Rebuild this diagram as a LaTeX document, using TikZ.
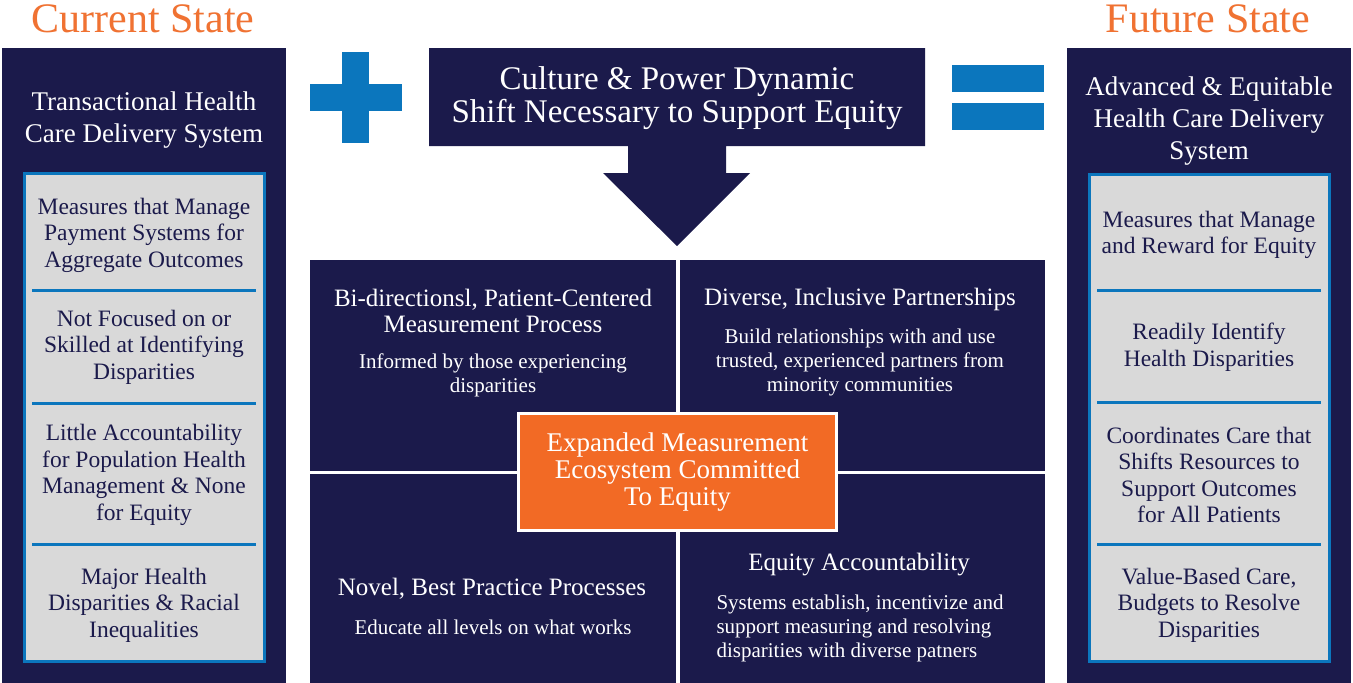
\documentclass[tikz,border=0pt]{standalone}
\usepackage{fontspec}
\setmainfont{Liberation Serif}
\definecolor{navy}{HTML}{1B1A4B}
\definecolor{sigblue}{HTML}{0B76BD}
\definecolor{flame}{HTML}{F26A25}
\definecolor{titleorange}{HTML}{F07232}
\definecolor{panelgray}{HTML}{D9D9D9}
\tikzset{
  statetitle/.style={text=titleorange, inner sep=0pt, font=\fontsize{42}{48}\selectfont},
  panel/.style={fill=navy},
  listbox/.style={fill=panelgray, draw=sigblue, line width=3pt},
  divider/.style={draw=sigblue, line width=3pt},
  heading/.style={text=white, align=center, inner sep=0pt, font=\fontsize{27}{32}\selectfont},
  item/.style={text=navy, align=center, inner sep=0pt, font=\fontsize{23.5}{26.5}\selectfont},
  qhead/.style={text=white, align=center, inner sep=0pt, font=\fontsize{25}{26}\selectfont},
  qsub/.style={text=white, align=center, inner sep=0pt, font=\fontsize{21}{24}\selectfont},
  symbol/.style={fill=sigblue},
}
\begin{document}
\begin{tikzpicture}[x=1pt,y=-1pt]
\useasboundingbox[fill=white] (0,0) rectangle (1353,683);

% ---- titles
\node[statetitle] (curtitle) at (143,19) {Current State};
\node[statetitle] (futtitle) at (1208,19) {Future State};

% ---- left column: current state
\fill[panel] (2,48) rectangle (286,683);
\node[heading] (curhead) at (144,120) {Transactional Health\\Care Delivery System};
\draw[listbox] (24,173) rectangle (264,661);
\draw[divider] (32,290) -- (256,290);
\draw[divider] (32,403) -- (256,403);
\draw[divider] (32,544) -- (256,544);
\node[item] (cur1) at (144,235) {Measures that Manage\\Payment Systems for\\Aggregate Outcomes};
\node[item] (cur2) at (144,347) {Not Focused on or\\Skilled at Identifying\\Disparities};
\node[item] (cur3) at (144,475) {Little Accountability\\for Population Health\\Management \& None\\for Equity};
\node[item] (cur4) at (144,605) {Major Health\\Disparities \& Racial\\Inequalities};

% ---- right column: future state
\fill[panel] (1067,48) rectangle (1351,683);
\node[heading] (futhead) at (1209,121) {Advanced \& Equitable\\Health Care Delivery\\System};
\draw[listbox] (1089,174) rectangle (1329,661);
\draw[divider] (1097,290) -- (1321,290);
\draw[divider] (1097,402) -- (1321,402);
\draw[divider] (1097,544) -- (1321,544);
\node[item] (fut1) at (1209,235) {Measures that Manage\\and Reward for Equity};
\node[item] (fut2) at (1209,347) {Readily Identify\\Health Disparities};
\node[item] (fut3) at (1209,475) {Coordinates Care that\\Shifts Resources to\\Support Outcomes\\for All Patients};
\node[item] (fut4) at (1209,605) {Value-Based Care,\\Budgets to Resolve\\Disparities};

% ---- plus and equals signs
\fill[symbol] (342,52) rectangle (369,143);
\fill[symbol] (310,84) rectangle (402,111);
\fill[symbol] (952,65) rectangle (1044,92);
\fill[symbol] (952,103) rectangle (1044,130);

% ---- downward arrow with the shift banner
\fill[panel] (429,48) -- (925,48) -- (925,146) -- (726,146) -- (726,173)
  -- (750,173) -- (677,246) -- (603,173) -- (628,173) -- (628,146)
  -- (429,146) -- cycle;
\node[heading, font=\fontsize{33}{33}\selectfont] (shift) at (677,98)
  {Culture \& Power Dynamic\\Shift Necessary to Support Equity};

% ---- four quadrants
\fill[panel] (310,260) rectangle (676,471);
\fill[panel] (680,260) rectangle (1045,471);
\fill[panel] (310,474) rectangle (676,683);
\fill[panel] (680,474) rectangle (1045,683);

\node[qhead] (q1h) at (493,311) {Bi-directionsl, Patient-Centered\\Measurement Process};
\node[qsub] (q1s) at (493,375) {Informed by those experiencing\\disparities};

\node[qhead] (q2h) at (860,299) {Diverse, Inclusive Partnerships};
\node[qsub] (q2s) at (860,362) {Build relationships with and use\\trusted, experienced partners from\\minority communities};

\node[qhead] (q3h) at (492,589) {Novel, Best Practice Processes};
\node[qsub] (q3s) at (493,627) {Educate all levels on what works};

\node[qhead] (q4h) at (859,565) {Equity Accountability};
\node[qsub, align=left] (q4s) at (860,628) {Systems establish, incentivize and\\support measuring and resolving\\disparities with diverse patners};

% ---- central hub
\node[draw=white, line width=3pt, fill=flame, minimum width=318pt, minimum height=117pt,
  text=white, align=center, font=\fontsize{27}{27}\selectfont] (hub) at (677.5,472)
  {Expanded Measurement\\Ecosystem Committed\\To Equity};
\end{tikzpicture}
\end{document}
